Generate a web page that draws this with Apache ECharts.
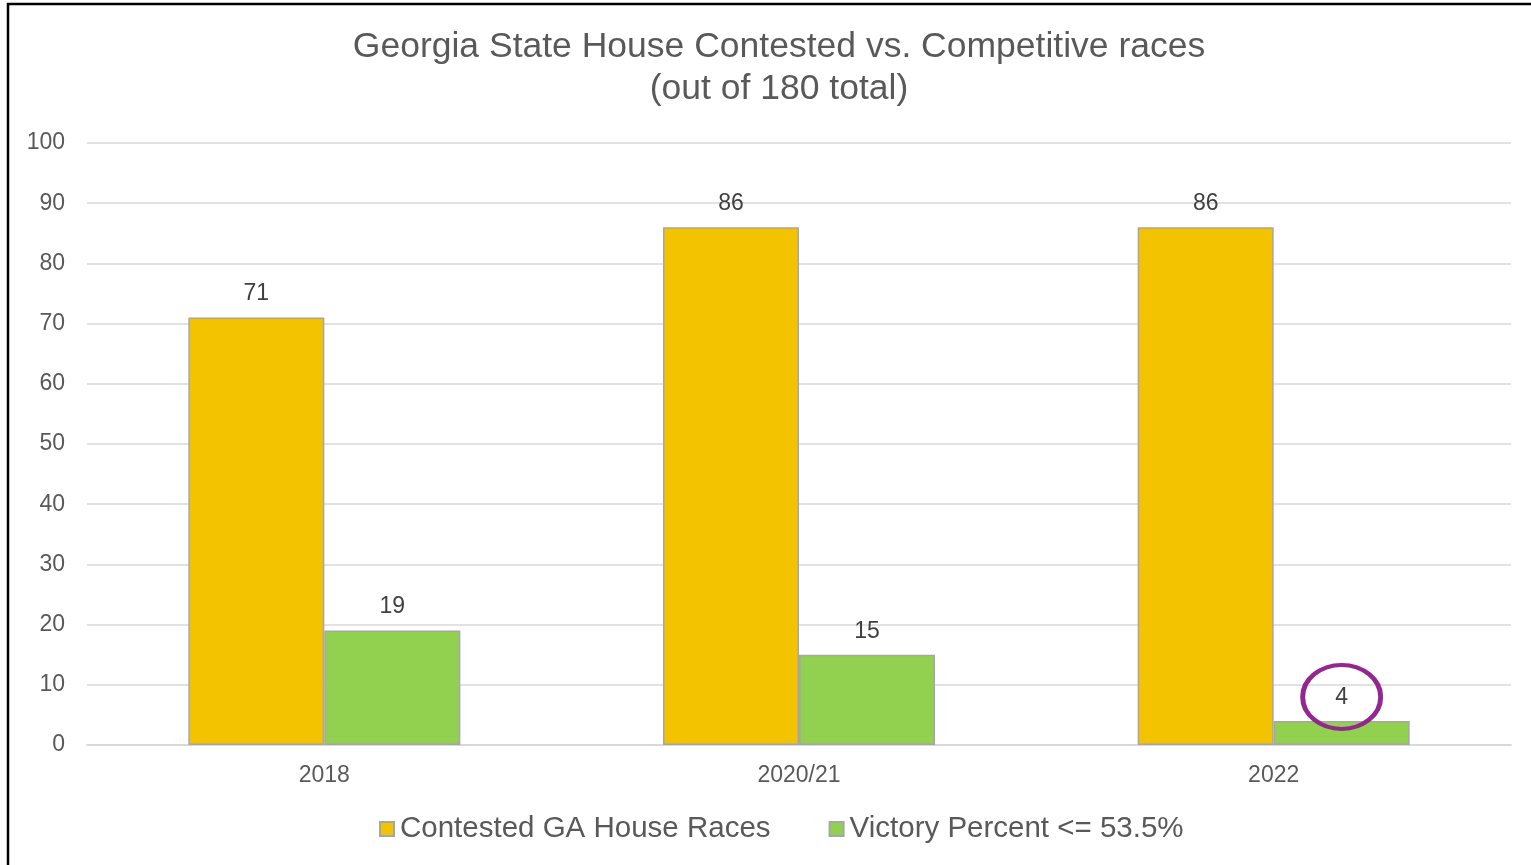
<!DOCTYPE html>
<html>
<head>
<meta charset="utf-8">
<script src="https://cdn.jsdelivr.net/npm/echarts@6/dist/echarts.min.js"></script>
<style>
html,body{margin:0;padding:0;background:#fff;}
#chart{width:1531px;height:865px;}
</style>
</head>
<body>
<div id="chart"></div>
<script>
const categories = ['2018', '2020/21', '2022'];
const contested = [71, 86, 86];
const competitive = [19, 15, 4];
const seriesNames = ['Contested GA House Races', 'Victory Percent <= 53.5%'];
const yTicks = [0, 100, 10]; // min, max, interval

const chart = echarts.init(document.getElementById('chart'), null, {renderer: 'canvas'});
const font = 'Liberation Sans, Arial, sans-serif';
const option = {
  backgroundColor: '#ffffff',
  animation: false,
  title: {
    text: 'Georgia State House Contested vs. Competitive races\n(out of 180 total)',
    left: 774, top: 21, textAlign: 'center',
    textStyle: {fontFamily: font, fontSize: 35.5, fontWeight: 'normal', color: '#595959', lineHeight: 42}
  },
  legend: {
    bottom: 16, left: 374,
    itemWidth: 14, itemHeight: 14, itemGap: 58,
    icon: 'rect',
    textStyle: {fontFamily: font, fontSize: 29.5, color: '#595959', padding: [0,0,0,1]},
    data: seriesNames
  },
  graphic: [{
    type: 'rect', silent: true, z: 100,
    shape: {x: 8, y: 4, width: 1540, height: 900},
    style: {fill: 'none', stroke: '#000', lineWidth: 2.5}
  }],
  grid: {left: 87, right: 20, top: 143, bottom: 120, containLabel: false},
  xAxis: {
    type: 'category', data: categories,
    axisLine: {show: true, lineStyle: {color: '#d9d9d9', width: 2}},
    axisTick: {show: false},
    axisLabel: {fontFamily: font, fontSize: 23, color: '#595959', margin: 19}
  },
  yAxis: {
    type: 'value', min: yTicks[0], max: yTicks[1], interval: yTicks[2],
    axisLine: {show: false}, axisTick: {show: false},
    axisLabel: {fontFamily: font, fontSize: 23, color: '#595959', margin: 22},
    splitLine: {lineStyle: {color: '#d9d9d9', width: 1.5}}
  },
  series: [{
    name: seriesNames[0], type: 'bar', data: contested,
    barGap: '0%', barCategoryGap: '42.7%',
    itemStyle: {color: '#f3c300', borderColor: '#a6a6a6', borderWidth: 1.5},
    label: {show: true, position: 'top', distance: 12, fontFamily: font, fontSize: 23, color: '#404040'}
  }, {
    name: seriesNames[1], type: 'bar', data: competitive,
    barGap: '0%', barCategoryGap: '42.7%',
    itemStyle: {color: '#92d050', borderColor: '#a6a6a6', borderWidth: 1.5},
    label: {show: true, position: 'top', distance: 12, fontFamily: font, fontSize: 23, color: '#404040'},
    markPoint: {
      silent: true,
      symbol: 'circle', symbolSize: [78, 64], symbolOffset: [0, -24],
      itemStyle: {color: 'rgba(0,0,0,0)', borderColor: '#93278f', borderWidth: 4.5},
      label: {show: false},
      data: [{coord: [2, competitive[2]]}]
    }
  }]
};
chart.setOption(option);
</script>
</body>
</html>
